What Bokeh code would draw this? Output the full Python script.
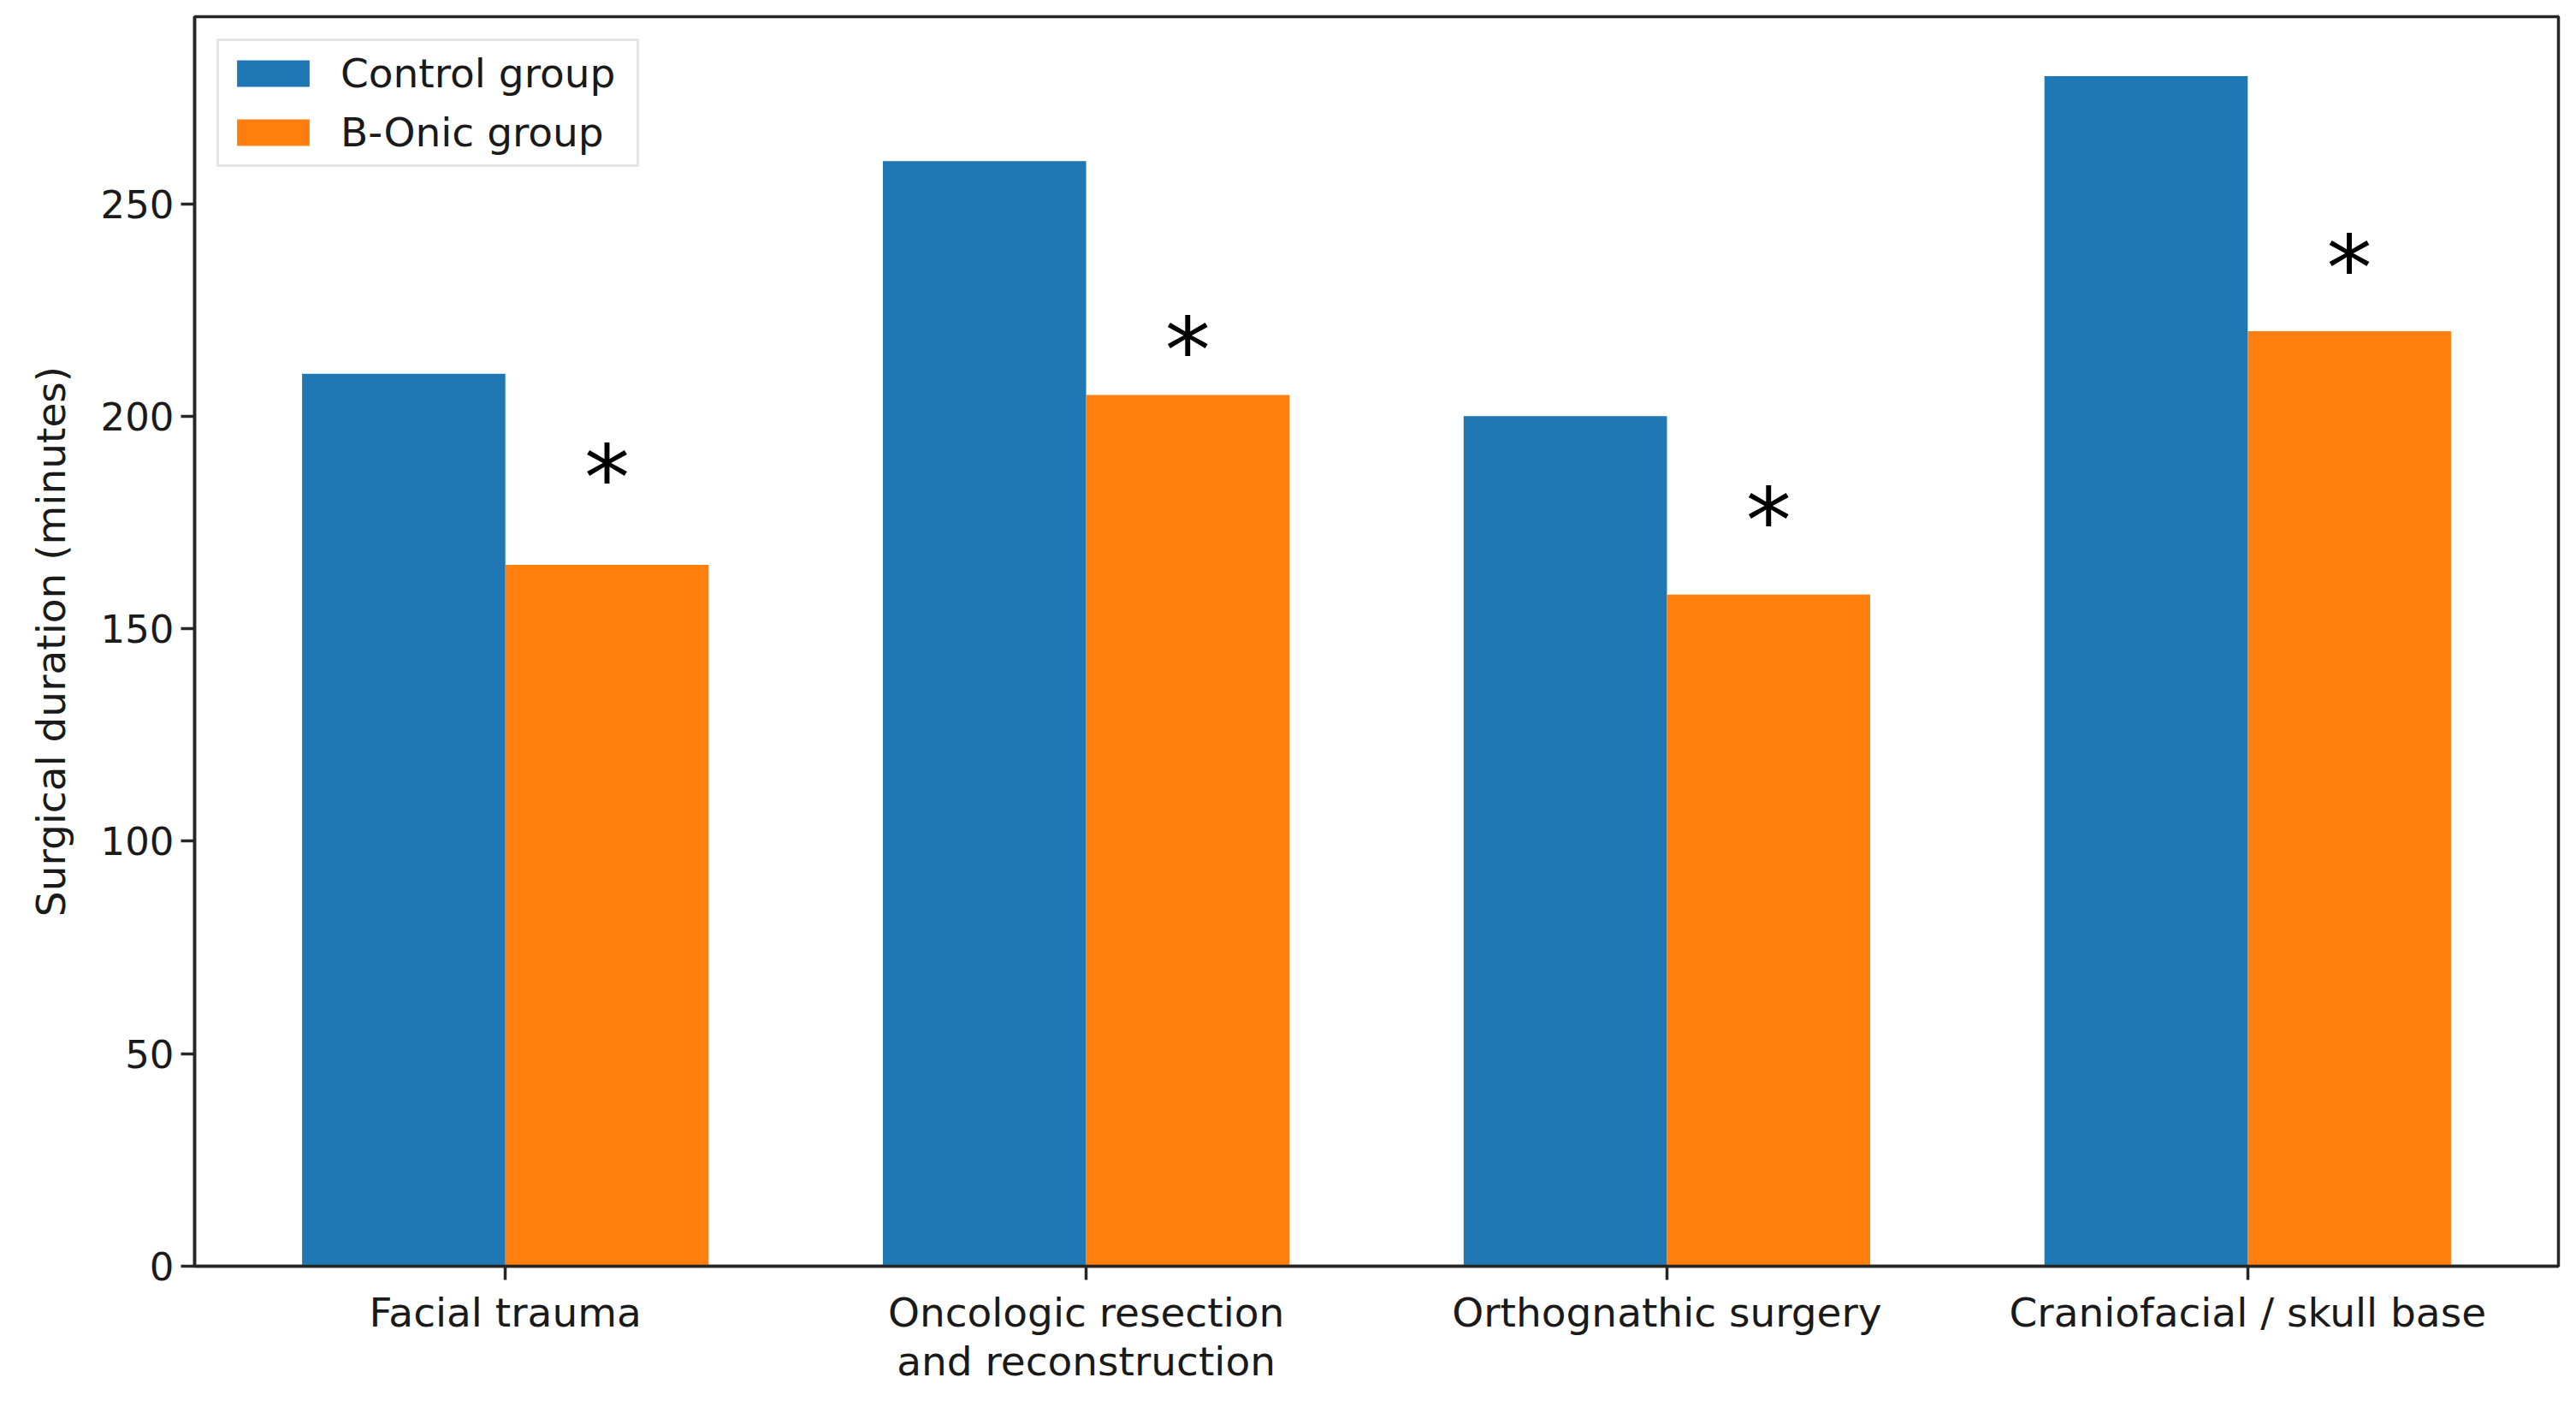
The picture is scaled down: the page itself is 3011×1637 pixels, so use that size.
from bokeh.plotting import figure
from bokeh.models import ColumnDataSource, Range1d, FixedTicker, Legend, LegendItem
from bokeh.core.properties import value
from bokeh.embed import file_html
from bokeh.resources import INLINE

categories = ["Facial trauma", "Oncologic resection\nand reconstruction",
              "Orthognathic surgery", "Craniofacial / skull base"]
control = [210, 260, 200, 280]
bonic = [165, 205, 158, 220]
star_y = [189, 219, 179, 238.5]
y_ticks = [0, 50, 100, 150, 200, 250]

FONT = "DejaVu Sans"
LINE = "#262626"
bw = 0.35
idx = list(range(len(categories)))

p = figure(width=2995, height=1621, output_backend="svg", toolbar_location=None,
           x_range=Range1d(-0.535, 3.535), y_range=Range1d(0, 294),
           min_border_left=227, min_border_right=5, min_border_top=19, min_border_bottom=129)
p.grid.visible = False
p.background_fill_color = "white"
p.border_fill_color = "white"
p.outline_line_color = LINE
p.outline_line_width = 3.5

src_c = ColumnDataSource(dict(x=[i - bw / 2 for i in idx], top=control))
src_b = ColumnDataSource(dict(x=[i + bw / 2 for i in idx], top=bonic))
rc = p.vbar(x="x", top="top", width=bw, bottom=0, source=src_c, fill_color="#1f77b4", line_color=None)
rb = p.vbar(x="x", top="top", width=bw, bottom=0, source=src_b, fill_color="#ff7f0e", line_color=None)

src_s = ColumnDataSource(dict(x=[i + bw / 2 for i in idx], y=star_y, t=["*"] * len(idx)))
p.text(x="x", y="y", text="t", source=src_s, text_font=value(FONT), text_font_size="106px",
       text_align="center", text_baseline="middle", text_color="black", y_offset=18)

for ax in (p.xaxis[0], p.yaxis[0]):
    ax.axis_line_color = LINE
    ax.axis_line_width = 3.5
    ax.major_tick_line_color = LINE
    ax.major_tick_line_width = 3.5
    ax.major_tick_out = 16
    ax.major_tick_in = 0
    ax.minor_tick_line_color = None
    ax.major_label_text_font = FONT
    ax.major_label_text_color = "#1a1a1a"

p.xaxis.major_label_text_font_size = "47px"
p.yaxis.major_label_text_font_size = "45px"
p.xaxis.ticker = FixedTicker(ticks=idx)
p.xaxis.major_label_overrides = {i: c for i, c in zip(idx, categories)}
p.xaxis.major_label_standoff = 10
p.xaxis.major_label_text_line_height = 1.05
p.yaxis.ticker = FixedTicker(ticks=y_ticks)
p.yaxis.major_label_standoff = 8
p.yaxis.axis_label = "Surgical duration (minutes)"
p.yaxis.axis_label_text_font = FONT
p.yaxis.axis_label_text_font_size = "47px"
p.yaxis.axis_label_text_font_style = "normal"
p.yaxis.axis_label_text_color = "#1a1a1a"
p.yaxis.axis_label_standoff = 28

legend = Legend(items=[LegendItem(label="Control group", renderers=[rc]),
                       LegendItem(label="B-Onic group", renderers=[rb])],
                location="top_left", margin=26, padding=10, spacing=14,
                glyph_width=106, glyph_height=39, label_standoff=26, label_width=336,
                label_text_font=FONT, label_text_font_size="47px", label_text_color="#1a1a1a",
                border_line_color="#cccccc", border_line_width=3, background_fill_alpha=0.8)
p.add_layout(legend)

open("out.html", "w").write(file_html(p, INLINE))
